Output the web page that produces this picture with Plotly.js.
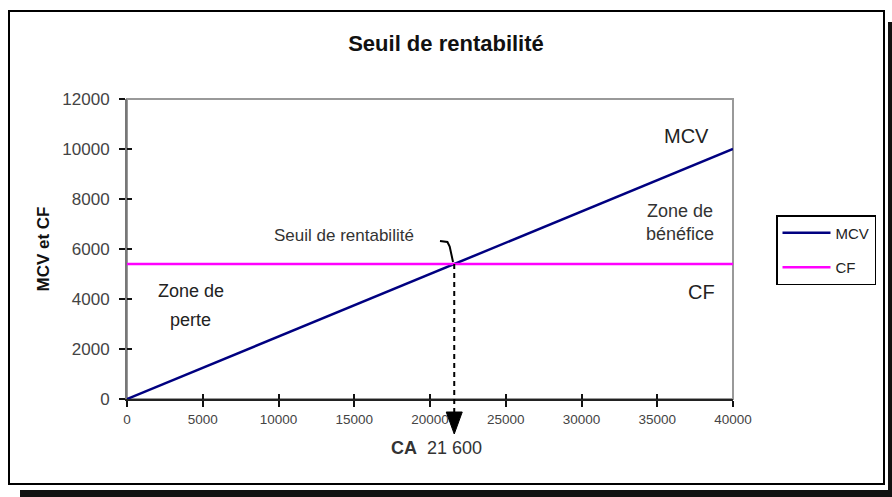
<!DOCTYPE html>
<html>
<head>
<meta charset="utf-8">
<script src="https://cdn.plot.ly/plotly-3.0.1.min.js"></script>
<style>html,body{margin:0;padding:0;background:#fff;}#chart{width:892px;height:497px;}</style>
</head>
<body>
<div id="chart"></div>
<script>
// ---- data ----
const ca = [0, 40000];          // chiffre d'affaires (x)
const mcv = [0, 10000];         // marge sur coûts variables
const cf = [5400, 5400];        // charges fixes
const seuil = 21600;            // seuil de rentabilité (CA)
const seriesNames = ["MCV", "CF"];
const xTicks = [0, 5000, 10000, 15000, 20000, 25000, 30000, 35000, 40000];
const yTicks = [0, 2000, 4000, 6000, 8000, 10000, 12000];

// ---- geometry helpers (pixel -> paper) ----
const W = 892, H = 497;
const L = 127, R = 733, T = 99, B = 399;
const px = p => (p - L) / (R - L);
const py = p => (B - p) / (B - T);
const xMax = 40000, yMax = 12000;
const FONT = "Liberation Sans, Arial, sans-serif";

const traces = [
  {x: ca, y: mcv, name: seriesNames[0], mode: "lines", legendgroup: "a",
   line: {color: "#000080", width: 2.5}, hoverinfo: "skip"},
  {x: ca, y: cf, name: seriesNames[1], mode: "lines", legendgroup: "b",
   line: {color: "#ff00ff", width: 2.5}, hoverinfo: "skip"},
  {x: [], y: [], xaxis: "x2", yaxis: "y2", showlegend: false, hoverinfo: "skip"}
];

const axBase = {showgrid: false, zeroline: false, fixedrange: true};

const layout = {
  width: W, height: H,
  margin: {l: L, r: W - R, t: T, b: H - B, pad: 0},
  paper_bgcolor: "#fff", plot_bgcolor: "#fff",
  font: {family: FONT, color: "#333"},
  showlegend: true,
  title: {text: "<b>Seuil de rentabilité</b>", font: {family: FONT, size: 22, color: "#111"},
          xref: "container", yref: "container", x: 446 / W, y: 1 - 43 / H,
          xanchor: "center", yanchor: "middle"},
  xaxis: Object.assign({}, axBase, {
    range: [0, xMax], tickvals: xTicks, ticktext: xTicks.map(String),
    showline: true, linecolor: "#222", linewidth: 2,
    ticks: "outside", ticklen: 6, tickwidth: 2, tickcolor: "#111",
    ticklabelstandoff: 1,
    tickfont: {family: FONT, size: 13.5, color: "#444"}
  }),
  yaxis: Object.assign({}, axBase, {
    range: [0, yMax], tickvals: yTicks, ticktext: yTicks.map(String),
    showline: true, linecolor: "#777", linewidth: 2,
    ticks: "outside", ticklen: 6, tickwidth: 2, tickcolor: "#111",
    ticklabelstandoff: 6,
    tickfont: {family: FONT, size: 17, color: "#444"},
    title: {text: "<b>MCV et CF</b>", font: {family: FONT, size: 17, color: "#111"}, standoff: 8}
  }),
  xaxis2: Object.assign({}, axBase, {
    overlaying: "x", anchor: "y2", range: [0, xMax], tickvals: xTicks,
    showticklabels: false, showline: false, ticks: "inside", ticklen: 5, tickwidth: 2, tickcolor: "#111"
  }),
  yaxis2: Object.assign({}, axBase, {
    overlaying: "y", anchor: "x2", range: [0, yMax], tickvals: yTicks,
    showticklabels: false, showline: false, ticks: "inside", ticklen: 5, tickwidth: 2, tickcolor: "#111"
  }),
  legend: {
    x: px(776), y: py(215), xanchor: "left", yanchor: "top",
    bgcolor: "#fff", bordercolor: "#000", borderwidth: 1.5,
    font: {family: FONT, size: 15, color: "#222"},
    tracegroupgap: 12, itemwidth: 48, traceorder: "grouped"
  },
  shapes: [
    // outer frame and its shadow
    {type: "rect", xref: "paper", yref: "paper", x0: px(9), x1: px(884), y0: py(11), y1: py(484),
     line: {color: "#000", width: 2}, layer: "below"},
    {type: "rect", xref: "paper", yref: "paper", x0: px(20), x1: px(892), y0: py(490), y1: py(497),
     line: {width: 0}, fillcolor: "#111", layer: "below"},
    {type: "rect", xref: "paper", yref: "paper", x0: px(888), x1: px(892), y0: py(22), y1: py(497),
     line: {width: 0}, fillcolor: "#111", layer: "below"},
    // plot frame
    {type: "rect", xref: "paper", yref: "paper", x0: 0, x1: 1, y0: 0, y1: 1,
     line: {color: "#999", width: 2}, layer: "below"},
    // dashed drop line from break-even point
    {type: "line", xref: "paper", yref: "paper", x0: seuil / xMax, x1: seuil / xMax,
     y0: cf[0] / yMax, y1: py(413), line: {color: "#000", width: 2, dash: "5px,4px"}},
    // arrow head
    {type: "path", xref: "paper", yref: "paper",
     path: "M " + (seuil / xMax - 8 / (R - L)) + " " + py(412) +
           " L " + (seuil / xMax + 8 / (R - L)) + " " + py(412) +
           " L " + (seuil / xMax) + " " + py(434) + " Z",
     fillcolor: "#000", line: {color: "#000", width: 1}},
    // leader line to the label
    {type: "path", xref: "x", yref: "y",
     path: "M 20660 6320 L 21150 6280 L 21300 6100 L 21520 5480",
     line: {color: "#000", width: 2}}
  ],
  annotations: [
    {x: 36900, y: 10520, xref: "x", yref: "y", text: "MCV", showarrow: false,
     font: {family: FONT, size: 20, color: "#222"}},
    {x: 36500, y: 7060, xref: "x", yref: "y", text: "Zone de<br>bénéfice", showarrow: false,
     font: {family: FONT, size: 18, color: "#333"}},
    {x: 37900, y: 4280, xref: "x", yref: "y", text: "CF", showarrow: false,
     font: {family: FONT, size: 20, color: "#222"}},
    {x: 4200, y: 4320, xref: "x", yref: "y", text: "Zone de", showarrow: false,
     font: {family: FONT, size: 18, color: "#222"}},
    {x: 4200, y: 3160, xref: "x", yref: "y", text: "perte", showarrow: false,
     font: {family: FONT, size: 18, color: "#222"}},
    {x: 14300, y: 6560, xref: "x", yref: "y", text: "Seuil de rentabilité", showarrow: false,
     font: {family: FONT, size: 17, color: "#333"}},
    {x: px(436), y: py(448), xref: "paper", yref: "paper", xanchor: "center", yanchor: "middle",
     text: "<b>CA</b>&nbsp; " + "21 600", showarrow: false,
     font: {family: FONT, size: 18, color: "#333"}}
  ]
};

Plotly.newPlot("chart", traces, layout, {staticPlot: true, displayModeBar: false});
</script>
</body>
</html>
